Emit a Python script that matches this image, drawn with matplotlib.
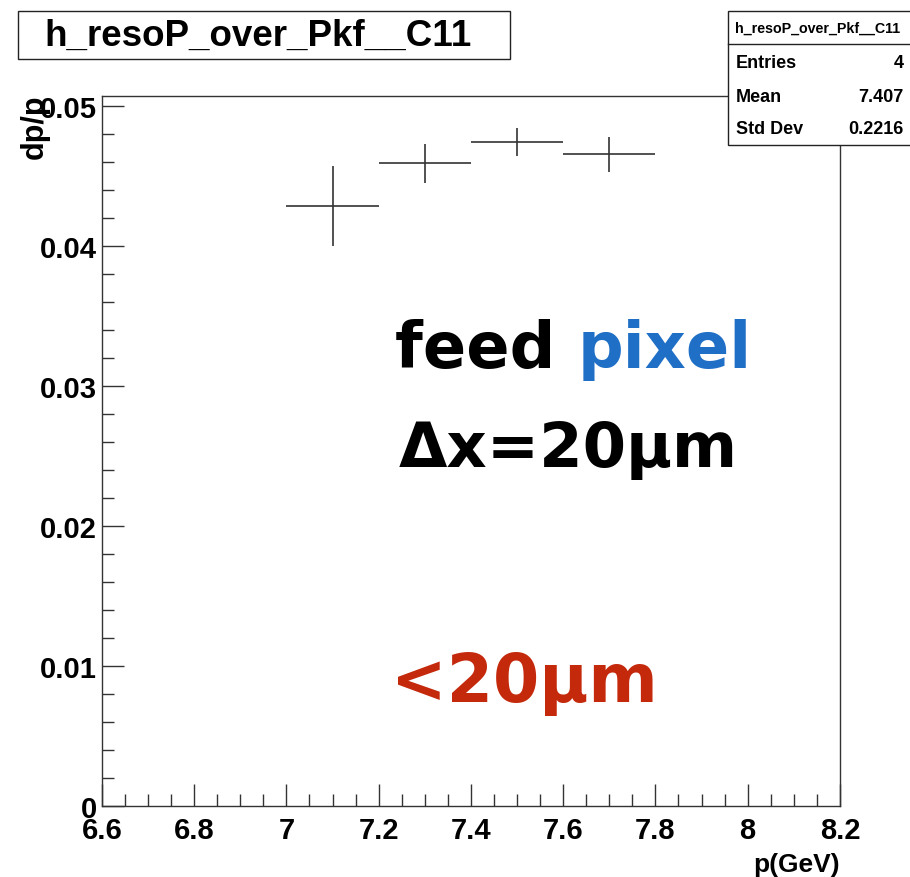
import matplotlib
matplotlib.use("Agg")
import matplotlib.pyplot as plt
from matplotlib.patches import Rectangle
from matplotlib.lines import Line2D
from matplotlib.ticker import MultipleLocator
import numpy as np

# histogram h_resoP_over_Pkf__C11 (4 filled bins)
p_bins = np.array([7.1, 7.3, 7.5, 7.7])
p_halfwidth = np.array([0.1, 0.1, 0.1, 0.1])
reso = np.array([0.04288, 0.04591, 0.04743, 0.04655])
reso_err = np.array([0.00286, 0.00141, 0.00100, 0.00127])

hist_name = "h_resoP_over_Pkf__C11"
stats_rows = [("Entries", "4"), ("Mean", "7.407"), ("Std Dev", "0.2216")]

plt.rcParams['font.family'] = ['Liberation Sans', 'DejaVu Sans']

fig = plt.figure(figsize=(9.10, 8.78), dpi=100)
ax = fig.add_axes([0.112, 0.0809, 0.811, 0.8086])

ax.errorbar(p_bins, reso, xerr=p_halfwidth, yerr=reso_err, fmt='none',
            ecolor='#333333', elinewidth=1.2, capsize=0)

ax.set_xlim(6.6, 8.2)
ax.set_ylim(0, 0.05072)
ax.xaxis.set_minor_locator(MultipleLocator(0.05))
ax.yaxis.set_minor_locator(MultipleLocator(0.002))
ax.set_xticks([6.6, 6.8, 7.0, 7.2, 7.4, 7.6, 7.8, 8.0, 8.2])
ax.set_xticklabels(["6.6", "6.8", "7", "7.2", "7.4", "7.6", "7.8", "8", "8.2"])
ax.set_yticks([0, 0.01, 0.02, 0.03, 0.04, 0.05])
ax.set_yticklabels(["0", "0.01", "0.02", "0.03", "0.04", "0.05"])

ax.tick_params(which='both', direction='in', top=False, right=False,
               labelsize=21, width=1.0, color='#333333')
ax.tick_params(which='major', length=16)
ax.tick_params(which='minor', length=8.5)
ax.tick_params(axis='y', pad=3.6)
ax.tick_params(axis='x', pad=7)
for lab in ax.get_xticklabels() + ax.get_yticklabels():
    lab.set_fontweight('bold')
for s in ax.spines.values():
    s.set_linewidth(1.0)
    s.set_color('#333333')

ax.set_xlabel("p(GeV)", fontsize=19, fontweight='bold', loc='right')
ax.xaxis.set_label_coords(1.0, -0.065, transform=ax.transAxes)
ax.xaxis.label.set_horizontalalignment('right')
ax.set_ylabel("dp/p", fontsize=22, fontweight='bold', loc='top')
ax.yaxis.set_label_coords(-0.071, 1.003)

# handwritten-style notes
note_font = ['DejaVu Sans']
ax.text(0.645, 0.618, "feed ", transform=ax.transAxes, fontsize=46,
        fontweight='bold', family=note_font, ha='right', va='baseline',
        color='black')
ax.text(0.645, 0.618, "pixel", transform=ax.transAxes, fontsize=46,
        fontweight='bold', family=note_font, ha='left', va='baseline',
        color='#1f6fc6')
ax.text(0.632, 0.479, "Δx=20μm", transform=ax.transAxes, fontsize=45,
        fontweight='bold', family=note_font, ha='center', va='baseline',
        color='black')
ax.text(0.5726, 0.148, "<20μm", transform=ax.transAxes, fontsize=48,
        fontweight='bold', family=note_font, ha='center', va='baseline',
        color='#c4290c')

# title box
fig.add_artist(Rectangle((0.0198, 0.9317), 0.5406, 0.0546, transform=fig.transFigure,
                         facecolor='white', edgecolor='#222222', linewidth=1.0, zorder=5))
fig.text(0.284, 0.959, hist_name, fontsize=26.5, fontweight='bold',
         ha='center', va='center', zorder=6)

# stats box
fig.add_artist(Rectangle((0.8, 0.8337), 0.25, 0.1526, transform=fig.transFigure,
                         facecolor='white', edgecolor='#222222', linewidth=1.0, zorder=5))
fig.add_artist(Line2D([0.8, 1.0], [0.9487, 0.9487], transform=fig.transFigure,
                      color='#222222', linewidth=1.0, zorder=6))
fig.text(0.8077, 0.967, hist_name, fontsize=10.3, fontweight='bold',
         ha='left', va='center', zorder=7)
row_y = [0.928, 0.8895, 0.852]
for (name, val), yy in zip(stats_rows, row_y):
    fig.text(0.809, yy, name, fontsize=13, fontweight='bold', ha='left', va='center', zorder=7)
    fig.text(0.993, yy, val, fontsize=13, fontweight='bold', ha='right', va='center', zorder=7)

fig.savefig("out.png", dpi=100)
